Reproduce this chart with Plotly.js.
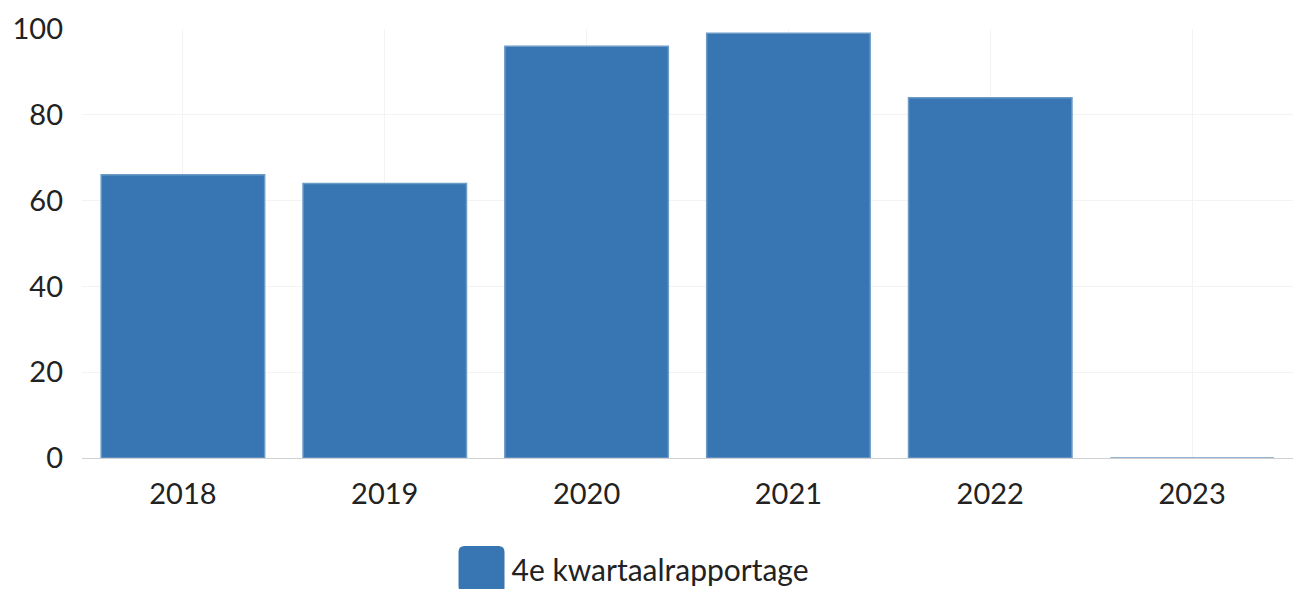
<!DOCTYPE html>
<html>
<head>
<meta charset="utf-8">
<script src="https://cdn.plot.ly/plotly-3.0.1.min.js"></script>
<style>html,body{margin:0;padding:0;background:#fff;}#chart{width:1298px;height:589px;}</style>
</head>
<body>
<div id="chart"></div>
<script>
const years = ['2018', '2019', '2020', '2021', '2022', '2023'];
const values = [66, 64, 96, 99, 84, 0];
const seriesName = '4e kwartaalrapportage';
const yTicks = [0, 20, 40, 60, 80, 100];

const trace = {
  type: 'bar',
  x: years,
  y: values,
  name: seriesName,
  marker: { color: '#3776b2', line: { color: '#6d9bc8', width: 1.5 } },
  showlegend: true,
  hoverinfo: 'x+y'
};

const layout = {
  width: 1298,
  height: 589,
  margin: { l: 82, r: 5, t: 29, b: 131, autoexpand: false },
  paper_bgcolor: '#ffffff',
  plot_bgcolor: '#ffffff',
  font: { family: 'Lato, sans-serif', size: 29, color: '#222222' },
  bargap: 0.19,
  xaxis: {
    type: 'category',
    showgrid: true,
    gridcolor: '#f3f3f3',
    tickfont: { size: 29, color: '#222222' },
    ticks: '',
    ticklabelstandoff: 10,
    showline: true,
    linecolor: '#d0d0d0',
    linewidth: 1,
    zeroline: false
  },
  yaxis: {
    range: [0, 100],
    tickvals: yTicks,
    showgrid: true,
    gridcolor: '#f3f3f3',
    zeroline: false,
    showline: false,
    ticks: '',
    tickfont: { size: 29, color: '#222222' },
    ticklabelstandoff: 18
  },
  showlegend: true,
  legend: {
    orientation: 'h',
    x: 0.455,
    xanchor: 'center',
    y: -0.198,
    yanchor: 'top',
    font: { size: 30, color: '#222222' },
    itemwidth: 50
  }
};

Plotly.newPlot('chart', [trace], layout, { displayModeBar: false, staticPlot: true }).then(function (gd) {
  const pts = gd.querySelectorAll('.legendpoints path');
  pts.forEach(function (p) {
    p.setAttribute('d', 'M-23,-17Q-23,-23,-17,-23H17Q23,-23,23,-17V23Q23,23,17,23H-17Q-23,23,-23,17Z');
    p.style.strokeWidth = '0';
  });
});
</script>
</body>
</html>
